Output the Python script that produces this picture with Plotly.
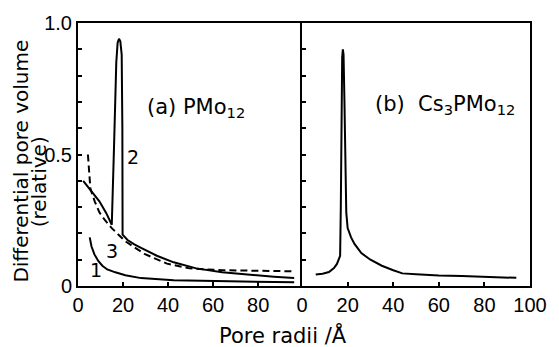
import plotly.graph_objects as go

# Panel (a) PMo12 — curve 2 (solid)
a2_x = [2.3, 6, 9.5, 12.5, 15, 16, 17, 17.6, 18.2, 18.8, 19.4, 19.7, 19.8, 22, 25, 28, 35, 42.5, 52.5, 64, 78, 87, 96]
a2_y = [0.40, 0.362, 0.322, 0.278, 0.233, 0.53, 0.85, 0.925, 0.94, 0.93, 0.88, 0.6, 0.195, 0.175, 0.158, 0.145, 0.115, 0.09, 0.067, 0.052, 0.04, 0.035, 0.03]
# curve 3 (dashed)
a3_x = [4.4, 5.5, 7.5, 9.5, 12, 15, 21, 29.5, 39.5, 49.5, 64, 87, 96]
a3_y = [0.50, 0.37, 0.32, 0.28, 0.25, 0.22, 0.17, 0.122, 0.085, 0.067, 0.06, 0.056, 0.056]
# curve 1 (solid)
a1_x = [5.2, 6, 7.3, 9, 10.8, 13, 16.6, 21, 28, 35, 42.5, 55, 64, 78, 87, 96]
a1_y = [0.185, 0.15, 0.12, 0.095, 0.077, 0.063, 0.052, 0.041, 0.03, 0.025, 0.022, 0.02, 0.018, 0.016, 0.015, 0.014]

# Panel (b) Cs3PMo12
b_x = [6, 9, 11.8, 14, 15.3, 16.7, 17.0, 17.3, 17.6, 17.9, 18.2, 18.6, 19.0, 19.4, 20, 21.5, 23, 26, 30, 35, 40, 44, 50, 60, 70, 80, 94]
b_y = [0.044, 0.047, 0.053, 0.068, 0.084, 0.115, 0.3, 0.7, 0.87, 0.9, 0.88, 0.7, 0.45, 0.28, 0.22, 0.185, 0.16, 0.125, 0.10, 0.077, 0.06, 0.048, 0.045, 0.04, 0.038, 0.035, 0.031]

y_ticks = [0, 0.1, 0.2, 0.3, 0.4, 0.5, 0.6, 0.7, 0.8, 0.9, 1.0]
y_ticktext = ["0", "", "", "", "", "0.5", "", "", "", "", "1.0"]
xa_ticks = [0, 20, 40, 60, 80]
xb_ticks = [0, 20, 40, 60, 80, 100]

FONT = "DejaVu Sans"
TICKFONT = "Liberation Sans"
LW = 2

fig = go.Figure()
fig.add_trace(go.Scatter(x=a2_x, y=a2_y, mode="lines", line=dict(color="black", width=LW),
                         xaxis="x", yaxis="y", showlegend=False))
fig.add_trace(go.Scatter(x=a3_x, y=a3_y, mode="lines", line=dict(color="black", width=LW, dash="7px,4px"),
                         xaxis="x", yaxis="y", showlegend=False))
fig.add_trace(go.Scatter(x=a1_x, y=a1_y, mode="lines", line=dict(color="black", width=LW),
                         xaxis="x", yaxis="y", showlegend=False))
fig.add_trace(go.Scatter(x=b_x, y=b_y, mode="lines", line=dict(color="black", width=LW),
                         xaxis="x2", yaxis="y2", showlegend=False))

axis_common = dict(showline=True, linecolor="black", linewidth=LW,
                   ticks="inside", ticklen=4, tickwidth=1.5, tickcolor="black",
                   showgrid=False, zeroline=False, ticklabeloverflow="allow",
                   tickfont=dict(family=TICKFONT, size=20, color="black"))

fig.update_layout(
    width=559, height=347,
    margin=dict(l=78, r=15, t=15, b=61),
    paper_bgcolor="white", plot_bgcolor="white",
    xaxis=dict(domain=[0, 0.4957], range=[0, 99.5], tickvals=xa_ticks, anchor="y", mirror=True, **axis_common),
    xaxis2=dict(domain=[0.4957, 1], range=[0, 100], tickvals=xb_ticks, anchor="y2", mirror=True, **axis_common),
    yaxis=dict(range=[0, 1.0], tickvals=y_ticks, ticktext=y_ticktext, anchor="x", mirror=False, **axis_common),
    yaxis2=dict(range=[0, 1.0], tickvals=y_ticks, showticklabels=False, anchor="x2", mirror=True, **axis_common),
)

def ann(x, y, text, xref, yref, size=20, **kw):
    fig.add_annotation(x=x, y=y, xref=xref, yref=yref, text=text, showarrow=False,
                       font=dict(family=FONT, size=size, color="black"),
                       xanchor="center", yanchor="middle", **kw)

ann(52.5, 0.678, "(a) PMo<sub>12</sub>", "x", "y", size=21)
ann(62.7, 0.69, "(b)  Cs<sub>3</sub>PMo<sub>12</sub>", "x2", "y2", size=21)
ann(24.5, 0.49, "2", "x", "y", size=19)
ann(15, 0.133, "3", "x", "y", size=19)
ann(8.1, 0.06, "1", "x", "y", size=19)

ann(-0.1266, 0.476, "Differential pore volume", "paper", "paper", size=20, textangle=-90)
ann(-0.0858, 0.395, "(relative)", "paper", "paper", size=20, textangle=-90)
ann(0.453, -0.1845, "Pore radii /Å", "paper", "paper", size=21)

fig.write_html("out.html")
